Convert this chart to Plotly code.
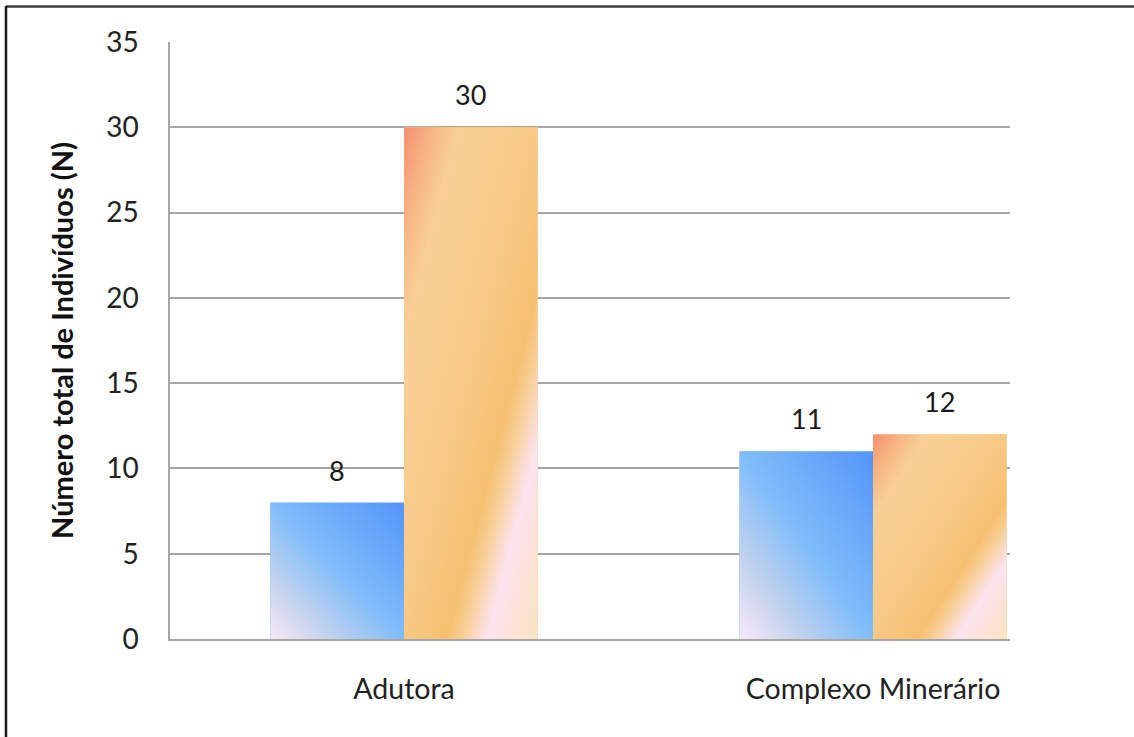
import base64
import plotly.graph_objects as go

# Data
categories = ["Adutora", "Complexo Minerário"]
serie_a = [8, 11]    # blue bars
serie_b = [30, 12]   # orange bars
y_ticks = [0, 5, 10, 15, 20, 25, 30, 35]

FONT = "Lato"
BAR_W = 0.285
xpos = list(range(len(categories)))


def svg_uri(x1, y1, x2, y2, stops):
    stop_xml = "".join(
        f'<stop offset="{o}" stop-color="{c}"/>' for o, c in stops
    )
    svg = (
        '<svg xmlns="http://www.w3.org/2000/svg" width="100" height="100" '
        'viewBox="0 0 100 100" preserveAspectRatio="none">'
        f'<defs><linearGradient id="g" x1="{x1}" y1="{y1}" x2="{x2}" y2="{y2}">'
        f"{stop_xml}</linearGradient></defs>"
        '<rect width="100" height="100" fill="url(#g)"/></svg>'
    )
    return "data:image/svg+xml;base64," + base64.b64encode(svg.encode()).decode()


blue_fill = svg_uri(0, 1, 1, 0, [
    (0, "#f9e8f7"), (0.22, "#c4d3ec"), (0.5, "#80bdfa"), (1, "#5494f8"),
])
orange_fill = svg_uri(0, 0, 1, 1, [
    (0, "#f5906c"), (0.1, "#f7b383"), (0.2, "#f8cf95"), (0.45, "#f8cb8a"),
    (0.66, "#f6c070"), (0.72, "#f8cf98"), (0.81, "#fce3f0"), (0.9, "#fbe2d6"),
    (1, "#fbe5c2"),
])

fig = go.Figure()
fig.add_trace(go.Bar(x=xpos, y=serie_a, width=BAR_W, offset=-BAR_W,
                     marker=dict(color="#80bdfa", line=dict(width=0)),
                     hoverinfo="y"))
fig.add_trace(go.Bar(x=xpos, y=serie_b, width=BAR_W, offset=0,
                     marker=dict(color="#f8c98a", line=dict(width=0)),
                     hoverinfo="y"))

# Gradient fills laid over each bar, sized from the bar values
images = []
annotations = []
for i in xpos:
    for val, off, src in ((serie_a[i], -BAR_W, blue_fill),
                          (serie_b[i], 0, orange_fill)):
        images.append(dict(
            source=src, xref="x", yref="y", x=i + off, y=val,
            sizex=BAR_W, sizey=val, xanchor="left", yanchor="top",
            sizing="stretch", layer="above",
        ))
        annotations.append(dict(
            x=i + off + BAR_W / 2, y=val, xref="x", yref="y",
            text=str(val), showarrow=False, yanchor="bottom", yshift=14,
            font=dict(family=FONT, size=27, color="#1a1a1a"),
        ))

# Frame lines along the top and left edges of the page
L, R, T, B = 170, 124, 42, 98
pw, ph = 1134 - L - R, 737 - T - B


def px_x(px):
    return (px - L) / pw


def px_y(py):
    return (737 - B - py) / ph


shapes = [
    dict(type="line", xref="paper", yref="paper",
         x0=px_x(6), x1=px_x(1134), y0=px_y(6.5), y1=px_y(6.5),
         line=dict(color="#3c3c3c", width=2.5)),
    dict(type="line", xref="paper", yref="paper",
         x0=px_x(6), x1=px_x(6), y0=px_y(6), y1=px_y(737),
         line=dict(color="#1a1a1a", width=2.5)),
]

fig.update_layout(
    width=1134, height=737,
    margin=dict(l=L, r=R, t=T, b=B),
    paper_bgcolor="white", plot_bgcolor="white",
    showlegend=False, barmode="group",
    images=images, annotations=annotations, shapes=shapes,
    font=dict(family=FONT, size=28, color="#222222"),
)
fig.update_xaxes(
    range=[-0.499, 1.292], tickvals=xpos, ticktext=categories,
    showgrid=False, zeroline=False, showline=True,
    linecolor="#a6a6a6", linewidth=1.5, ticks="",
    ticklabelstandoff=24,
    tickfont=dict(family=FONT, size=28.5, color="#222222"),
)
fig.update_yaxes(
    range=[0, 35], tickvals=y_ticks, showgrid=True,
    gridcolor="#a6a6a6", gridwidth=1.5, zeroline=False,
    showline=True, linecolor="#a6a6a6", linewidth=1.5, ticks="",
    ticklabelstandoff=24,
    tickfont=dict(family=FONT, size=28, color="#222222"),
    title=dict(text="<b>Número total de Indivíduos (N)</b>", standoff=24,
               font=dict(family=FONT, size=29, color="#111111")),
)

fig.write_html("out.html")
